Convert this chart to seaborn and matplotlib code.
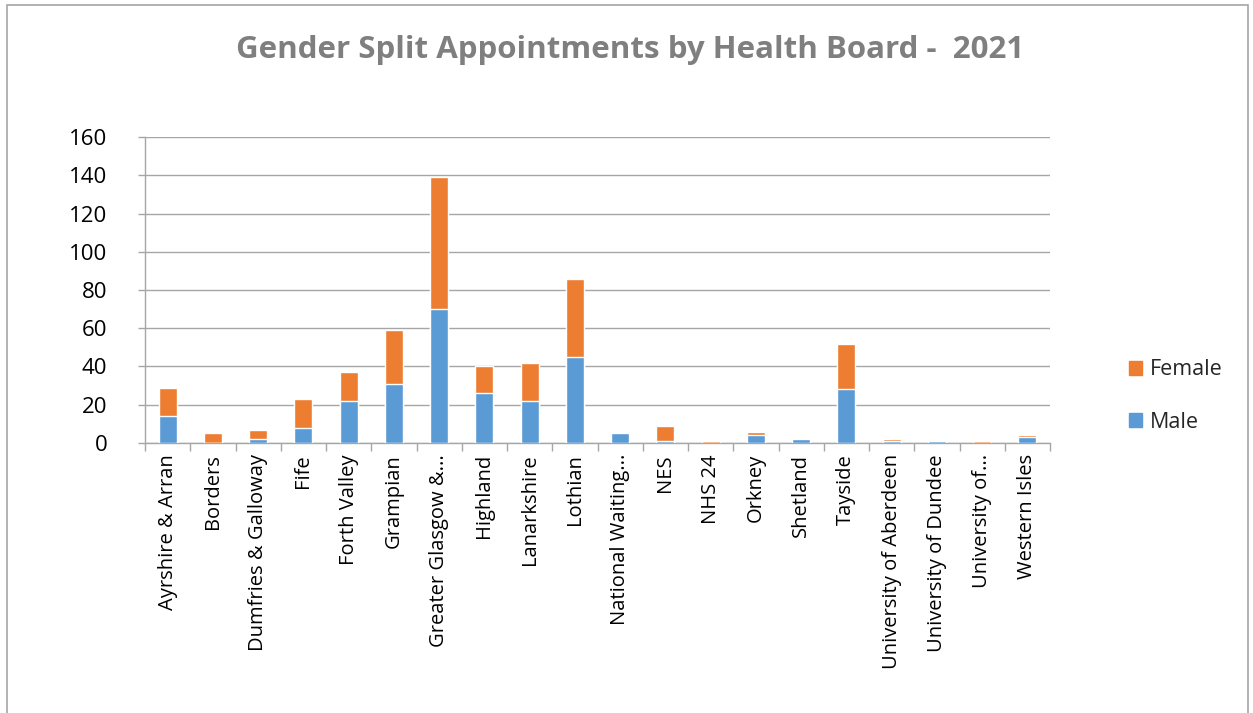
import matplotlib
matplotlib.use("Agg")
import matplotlib.pyplot as plt
import seaborn as sns
import pandas as pd
from matplotlib.patches import Patch, Rectangle

# data
boards = ["Ayrshire & Arran", "Borders", "Dumfries & Galloway", "Fife", "Forth Valley",
          "Grampian", "Greater Glasgow &...", "Highland", "Lanarkshire", "Lothian",
          "National Waiting...", "NES", "NHS 24", "Orkney", "Shetland", "Tayside",
          "University of Aberdeen", "University of Dundee", "University of...", "Western Isles"]
male = [14, 0, 2, 8, 22, 31, 70, 26, 22, 45, 5, 1, 0, 4, 2, 28, 1, 1, 0, 3]
female = [15, 5, 5, 15, 15, 28, 69, 14, 20, 41, 1, 8, 1, 2, 0, 24, 1, 0, 1, 1]

MALE_C = "#5b9bd5"
FEMALE_C = "#ed7d31"

sns.set_theme(style="white")
plt.rcParams["font.family"] = ["Open Sans", "DejaVu Sans"]

df = pd.DataFrame({"board": boards, "male": male, "female": female})
df["total"] = df["male"] + df["female"]

fig = plt.figure(figsize=(12.53, 7.13), dpi=100)
ax = fig.add_axes([145 / 1253, 1 - 443 / 713, (1050 - 145) / 1253, (443 - 137) / 713])

# stacked look: total in orange, male drawn over it
sns.barplot(data=df, x="board", y="total", color=FEMALE_C, width=0.4,
            saturation=1, ax=ax, zorder=3)
sns.barplot(data=df, x="board", y="male", color=MALE_C, width=0.4,
            saturation=1, ax=ax, zorder=4)

ax.set_xlim(-0.5, len(boards) - 0.5)
ax.set_ylim(0, 160)
ax.set_yticks(range(0, 161, 20))
ax.yaxis.grid(True, color="#a6a6a6", linewidth=1, zorder=0)
ax.set_xlabel("")
ax.set_ylabel("")
for s in ["top", "right"]:
    ax.spines[s].set_visible(False)
for s in ["left", "bottom"]:
    ax.spines[s].set_color("#a6a6a6")
    ax.spines[s].set_linewidth(1)

ax.set_xticks(range(len(boards)))
ax.set_xticklabels(boards, rotation=90, fontsize=14.5, color="black")
ax.set_xticks([i - 0.5 for i in range(len(boards) + 1)], minor=True)
ax.tick_params(axis="x", which="major", length=0, pad=8)
ax.tick_params(axis="x", which="minor", length=6, color="#a6a6a6", width=1, bottom=True)
ax.tick_params(axis="y", length=5, color="#a6a6a6", width=1, left=True,
               labelsize=16, labelcolor="black", pad=22)

handles = [Patch(color=FEMALE_C, label="Female"), Patch(color=MALE_C, label="Male")]
fig.legend(handles=handles, loc="center left", bbox_to_anchor=(1110 / 1253, 1 - 396 / 713),
           frameon=False, fontsize=15.5, handlelength=0.6, handleheight=0.6,
           labelspacing=1.45, handletextpad=0.35)

fig.suptitle("Gender Split Appointments by Health Board -  2021", x=0.503, y=1 - 50 / 713,
             va="center", fontsize=22.5, fontweight="bold", color="#7f7f7f")

fig.patches.append(Rectangle((7 / 1253, -0.05), (1248 - 7) / 1253, 1.05 - 5 / 713,
                             transform=fig.transFigure, fill=False,
                             edgecolor="#a6a6a6", linewidth=1.2))

fig.savefig("out.png", dpi=100, facecolor="white")
